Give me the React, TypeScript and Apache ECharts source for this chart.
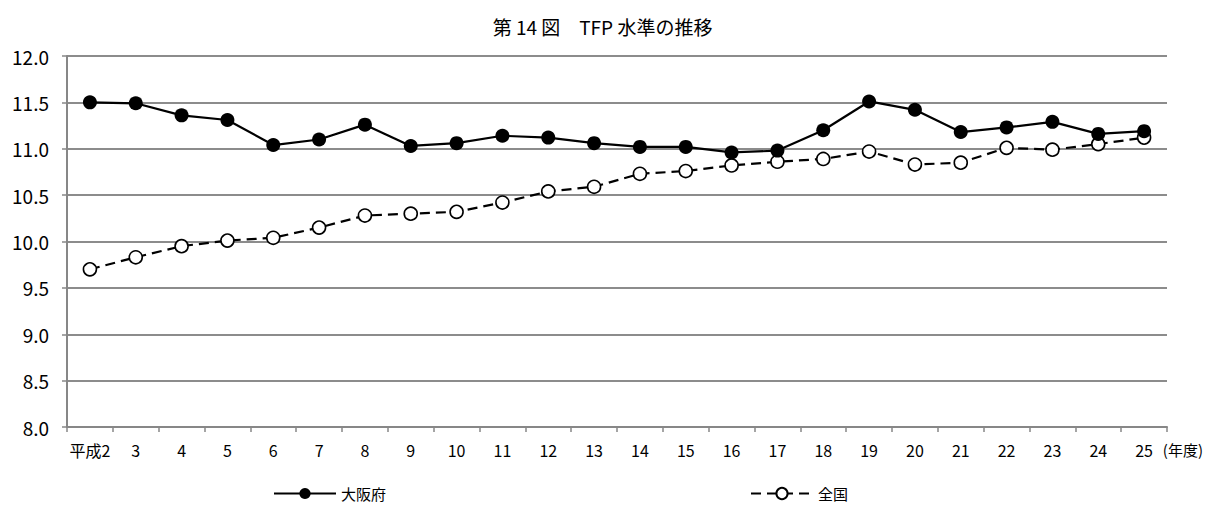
import React, { useEffect, useRef } from "react";
import * as echarts from "echarts";

const categories = ["平成2", "3", "4", "5", "6", "7", "8", "9", "10", "11", "12", "13", "14", "15", "16", "17", "18", "19", "20", "21", "22", "23", "24", "25"];
const osaka = [11.50, 11.49, 11.36, 11.31, 11.04, 11.10, 11.26, 11.03, 11.06, 11.14, 11.12, 11.06, 11.02, 11.02, 10.96, 10.98, 11.20, 11.51, 11.42, 11.18, 11.23, 11.29, 11.16, 11.19];
const national = [9.70, 9.83, 9.95, 10.01, 10.04, 10.15, 10.28, 10.30, 10.32, 10.42, 10.54, 10.59, 10.73, 10.76, 10.82, 10.86, 10.89, 10.97, 10.83, 10.85, 11.01, 10.99, 11.05, 11.12];
const yTicks = { min: 8, max: 12, interval: 0.5 };
const titleText = "第 14 図　TFP 水準の推移";
const unitText = "(年度)";
const seriesNames = ["大阪府", "全国"];

const FONT = "'Noto Sans CJK JP', 'Noto Sans', sans-serif";

export default function App() {
  const ref = useRef<HTMLDivElement>(null);
  useEffect(() => {
    if (!ref.current) return;
    const chart = echarts.init(ref.current, null, { renderer: "svg" });
    chart.setOption({
      animation: false,
      backgroundColor: "#ffffff",
      textStyle: { fontFamily: FONT, color: "#000" },
      title: {
        text: titleText,
        left: "center",
        top: 12,
        textStyle: { fontFamily: FONT, fontSize: 19, fontWeight: "normal", color: "#000" },
      },
      legend: [
        {
          data: [seriesNames[0]],
          left: 268,
          top: 481,
          itemWidth: 62,
          itemHeight: 14,
          itemGap: 0,
          textStyle: { fontFamily: FONT, fontSize: 15, color: "#000" },
        },
        {
          data: [seriesNames[1]],
          left: 745,
          top: 481,
          itemWidth: 62,
          itemHeight: 14,
          textStyle: { fontFamily: FONT, fontSize: 15, color: "#000" },
        },
      ],
      grid: { left: 67, right: 38, top: 56, bottom: 88, containLabel: false },
      xAxis: {
        type: "category",
        data: categories,
        boundaryGap: true,
        axisLine: { show: true, lineStyle: { color: "#878787", width: 2 } },
        axisTick: { show: true, alignWithLabel: false, length: 5, lineStyle: { color: "#878787", width: 1.5 } },
        axisLabel: { fontFamily: FONT, fontSize: 16, color: "#000", margin: 15, interval: 0 },
        splitLine: { show: false },
      },
      yAxis: {
        type: "value",
        min: yTicks.min,
        max: yTicks.max,
        interval: yTicks.interval,
        axisLine: { show: true, lineStyle: { color: "#878787", width: 2 } },
        axisTick: { show: true, length: 5, lineStyle: { color: "#878787", width: 1.5 } },
        axisLabel: {
          fontFamily: FONT,
          fontSize: 19,
          color: "#000",
          margin: 18,
          formatter: (v: number) => v.toFixed(1),
        },
        splitLine: { show: true, lineStyle: { color: "#8c8c8c", width: 2 } },
      },
      graphic: [
        {
          type: "text",
          right: 2,
          top: 442,
          style: { text: unitText, fontFamily: FONT, fontSize: 15, fill: "#000" },
        },
      ],
      series: [
        {
          name: seriesNames[0],
          type: "line",
          data: osaka,
          symbol: "circle",
          symbolSize: 14,
          itemStyle: { color: "#000", borderColor: "#000", borderWidth: 0 },
          lineStyle: { color: "#000", width: 2.2 },
          z: 3,
        },
        {
          name: seriesNames[1],
          type: "line",
          data: national,
          symbol: "circle",
          symbolSize: 13,
          itemStyle: { color: "#fff", borderColor: "#000", borderWidth: 1.6 },
          lineStyle: { color: "#000", width: 2.2, type: [10, 6] },
          z: 2,
        },
      ],
    });
    return () => chart.dispose();
  }, []);
  return (
    <div
      ref={ref}
      style={{ position: "fixed", left: 0, top: 0, width: 1205, height: 515, background: "#fff" }}
    />
  );
}
